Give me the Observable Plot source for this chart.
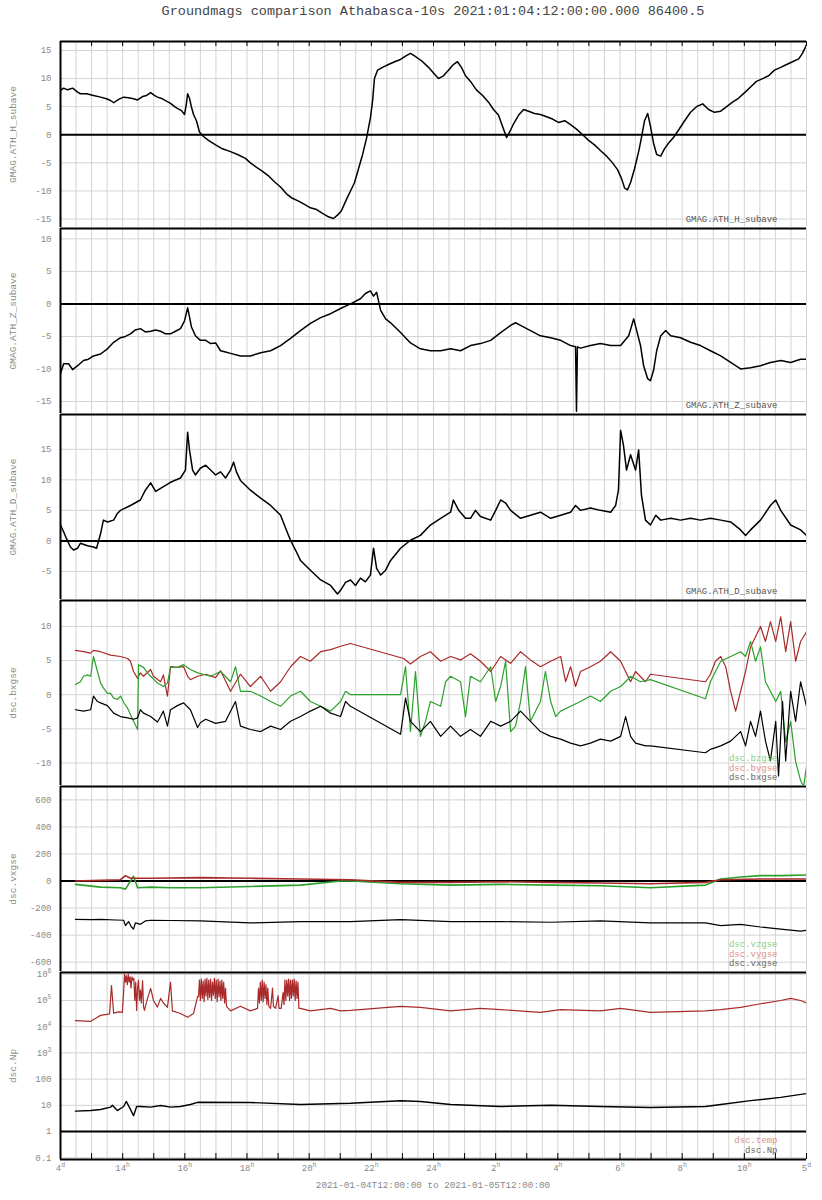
<!DOCTYPE html>
<html><head><meta charset="utf-8">
<script src="https://cdn.jsdelivr.net/npm/d3@7"></script>
<script src="https://cdn.jsdelivr.net/npm/@observablehq/plot@0.6"></script>
<style>
body{margin:0;background:#fff;font-family:'Liberation Mono','DejaVu Sans Mono',monospace;}
#title{width:822px;height:40px;line-height:24px;font-size:13.5px;color:#444;text-align:center;box-sizing:border-box;padding-left:44px;white-space:pre;}
#chart svg{display:block;overflow:visible;}
#caption{width:822px;height:14px;line-height:14px;font-size:9.3px;color:#888;text-align:center;box-sizing:border-box;padding-left:44px;}
</style></head><body>
<div id="title">Groundmags comparison Athabasca-10s 2021:01:04:12:00:00.000 86400.5</div>
<div id="chart"></div>
<div id="caption">2021-01-04T12:00:00 to 2021-01-05T12:00:00</div>
<script>
// ---- time axis (hours after 2021-01-04 12:00) ----
const xTickHours = [0,2,4,6,8,10,12,14,16,18,20,22,24];
const xTickLabels = ["4^d","14^h","16^h","18^h","20^h","22^h","24^h","2^h","4^h","6^h","8^h","10^h","5^d"];
const hourMarks = d3.range(0, 25, 1);
const halfHours = d3.range(0, 24.01, 0.5);

// ---- GMAG.ATH_H_subave ----
const athH = [[0,7.9],[0.10,8.3],[0.23,8.0],[0.39,8.3],[0.55,7.6],[0.64,7.3],[0.84,7.3],[1.06,7.0],[1.29,6.7],[1.48,6.4],[1.61,6.1],[1.71,5.7],[1.87,6.3],[2.03,6.7],[2.19,6.6],[2.35,6.4],[2.48,6.2],[2.64,6.8],[2.77,7.0],[2.90,7.5],[3.02,7.0],[3.12,6.7],[3.28,6.4],[3.41,6.0],[3.54,5.6],[3.67,5.0],[3.76,4.7],[3.89,4.3],[3.99,3.6],[4.05,5.5],[4.09,7.3],[4.15,6.5],[4.21,5.0],[4.28,3.6],[4.38,2.4],[4.47,0.5],[4.60,-0.3],[4.76,-1.0],[4.99,-1.8],[5.21,-2.5],[5.47,-3.0],[5.73,-3.6],[5.95,-4.2],[6.11,-5.0],[6.31,-5.8],[6.50,-6.5],[6.69,-7.3],[6.89,-8.4],[7.08,-9.3],[7.27,-10.5],[7.46,-11.3],[7.66,-11.8],[7.85,-12.4],[8.04,-13.0],[8.24,-13.3],[8.43,-14.0],[8.62,-14.6],[8.78,-14.9],[8.91,-14.3],[9.04,-13.5],[9.20,-11.5],[9.33,-10.0],[9.46,-8.5],[9.59,-6.0],[9.72,-3.5],[9.85,-0.5],[9.97,3.0],[10.04,6.0],[10.10,10.0],[10.20,11.5],[10.36,12.0],[10.55,12.5],[10.75,13.0],[10.94,13.4],[11.10,14.0],[11.26,14.5],[11.45,13.8],[11.65,13.0],[11.84,12.0],[12.00,11.0],[12.16,10.0],[12.32,10.5],[12.48,11.5],[12.64,12.5],[12.77,13.0],[12.90,12.0],[13.03,10.5],[13.19,9.5],[13.38,8.0],[13.58,7.0],[13.77,5.8],[13.93,4.5],[14.09,3.5],[14.22,1.5],[14.35,-0.5],[14.45,0.5],[14.58,2.0],[14.74,3.5],[14.90,4.5],[15.06,4.2],[15.25,3.8],[15.44,3.6],[15.64,3.2],[15.83,2.8],[16.02,2.2],[16.22,2.5],[16.41,1.8],[16.60,1.0],[16.80,0.0],[16.99,-1.0],[17.18,-1.8],[17.37,-2.8],[17.57,-3.8],[17.76,-5.0],[17.92,-6.2],[18.05,-7.8],[18.15,-9.5],[18.24,-9.8],[18.34,-8.5],[18.47,-6.0],[18.60,-3.0],[18.69,-0.5],[18.79,2.5],[18.89,3.8],[18.98,1.5],[19.08,-1.5],[19.18,-3.5],[19.31,-3.8],[19.43,-2.5],[19.56,-1.5],[19.72,-0.5],[19.88,0.8],[20.08,2.5],[20.27,4.0],[20.46,5.0],[20.66,5.5],[20.85,4.5],[21.04,4.0],[21.24,4.2],[21.43,5.0],[21.62,5.8],[21.81,6.5],[22.01,7.5],[22.20,8.5],[22.39,9.5],[22.59,10.0],[22.78,10.5],[22.97,11.5],[23.17,12.0],[23.36,12.5],[23.55,13.0],[23.75,13.5],[23.87,14.5],[24,16.0]];

// ---- GMAG.ATH_Z_subave ----
const athZ = [[0,-10.7],[0.10,-9.2],[0.26,-9.2],[0.39,-10.1],[0.55,-9.5],[0.74,-8.7],[0.90,-8.5],[1.06,-8.0],[1.29,-7.7],[1.51,-6.9],[1.71,-5.9],[1.93,-5.2],[2.09,-5.0],[2.25,-4.6],[2.41,-4.0],[2.57,-3.8],[2.73,-4.3],[2.90,-4.2],[3.06,-4.0],[3.22,-4.2],[3.38,-4.6],[3.54,-4.6],[3.70,-4.2],[3.86,-3.8],[3.99,-2.6],[4.09,-0.6],[4.15,-2.0],[4.21,-3.5],[4.34,-4.9],[4.50,-5.6],[4.67,-5.6],[4.83,-6.1],[4.99,-6.0],[5.15,-7.2],[5.31,-7.4],[5.47,-7.6],[5.79,-8.0],[6.11,-8.0],[6.44,-7.5],[6.76,-7.2],[7.08,-6.4],[7.40,-5.3],[7.72,-4.1],[8.04,-3.0],[8.37,-2.1],[8.69,-1.5],[9.01,-0.7],[9.33,0.0],[9.65,0.8],[9.81,1.6],[9.97,2.0],[10.07,1.2],[10.17,1.8],[10.23,0.5],[10.30,-1.0],[10.46,-2.3],[10.62,-2.9],[10.94,-4.4],[11.26,-6.0],[11.58,-6.9],[11.90,-7.2],[12.23,-7.2],[12.55,-6.9],[12.87,-7.2],[13.19,-6.4],[13.51,-6.1],[13.84,-5.6],[14.16,-4.4],[14.48,-3.3],[14.64,-2.9],[14.80,-3.3],[15.12,-4.1],[15.44,-4.9],[15.77,-5.2],[16.09,-5.6],[16.41,-6.4],[16.57,-6.6],[16.60,-16.5],[16.63,-6.6],[16.73,-6.8],[17.05,-6.4],[17.37,-6.1],[17.70,-6.4],[18.02,-6.4],[18.28,-4.9],[18.44,-2.3],[18.53,-4.0],[18.66,-6.4],[18.76,-9.5],[18.89,-11.5],[18.98,-11.8],[19.08,-10.2],[19.18,-7.2],[19.31,-4.9],[19.47,-4.1],[19.63,-4.9],[19.95,-5.2],[20.27,-5.9],[20.59,-6.4],[20.91,-7.2],[21.24,-8.0],[21.56,-9.0],[21.88,-10.0],[22.20,-9.8],[22.52,-9.5],[22.84,-9.0],[23.17,-8.7],[23.49,-9.0],[23.81,-8.5],[24,-8.5]];

// ---- GMAG.ATH_D_subave ----
const athD = [[0,2.6],[0.10,1.5],[0.19,0.4],[0.32,-1.0],[0.42,-1.5],[0.55,-1.2],[0.64,-0.4],[0.87,-0.8],[1.06,-1.0],[1.16,-1.2],[1.29,1.2],[1.38,3.4],[1.51,3.1],[1.71,3.4],[1.83,4.5],[1.93,5.0],[2.25,5.8],[2.57,6.7],[2.73,8.3],[2.90,9.5],[3.06,8.1],[3.22,8.6],[3.54,9.6],[3.86,10.3],[4.02,11.6],[4.09,17.8],[4.15,14.9],[4.25,11.6],[4.34,10.8],[4.50,11.9],[4.67,12.4],[4.83,11.6],[4.99,10.8],[5.15,11.3],[5.31,10.3],[5.47,11.6],[5.57,12.9],[5.66,11.3],[5.79,9.9],[6.11,8.3],[6.44,7.0],[6.76,5.8],[7.08,4.2],[7.24,2.1],[7.40,0.1],[7.56,-1.5],[7.72,-3.2],[8.04,-4.8],[8.37,-6.4],[8.69,-7.3],[8.91,-8.7],[9.01,-8.1],[9.17,-6.8],[9.33,-6.4],[9.49,-7.3],[9.65,-6.1],[9.81,-6.7],[9.97,-5.6],[10.07,-1.2],[10.17,-4.5],[10.30,-5.6],[10.46,-4.8],[10.62,-3.2],[10.94,-1.2],[11.26,0.1],[11.58,0.9],[11.90,2.6],[12.23,3.7],[12.55,4.7],[12.64,6.7],[12.81,5.0],[13.03,3.7],[13.19,3.7],[13.35,5.0],[13.51,4.0],[13.84,3.4],[14.00,5.0],[14.16,6.7],[14.32,6.2],[14.48,5.0],[14.80,3.7],[15.12,4.2],[15.44,4.7],[15.77,3.7],[16.09,4.2],[16.41,4.7],[16.57,5.8],[16.73,5.0],[17.05,5.4],[17.37,5.0],[17.70,4.7],[17.86,5.8],[17.95,8.3],[18.02,18.1],[18.11,15.7],[18.21,11.6],[18.34,14.1],[18.50,11.6],[18.60,14.9],[18.69,7.5],[18.82,3.4],[18.98,2.6],[19.15,4.2],[19.31,3.4],[19.63,3.7],[19.95,3.4],[20.27,3.7],[20.59,3.4],[20.91,3.7],[21.24,3.4],[21.56,3.1],[21.88,1.8],[22.04,0.9],[22.20,1.8],[22.52,3.4],[22.84,5.8],[23.01,6.7],[23.17,5.0],[23.49,2.6],[23.81,1.8],[24,0.9]];

// ---- dsc.bxgse / bygse / bzgse ----
const dscBy = [[0.48,6.5],[0.74,6.3],[0.97,6.1],[1.06,6.5],[1.29,6.3],[1.61,5.8],[1.93,5.6],[2.16,5.3],[2.25,4.9],[2.35,3.4],[2.48,2.4],[2.57,3.2],[2.67,2.7],[2.90,3.7],[2.99,2.7],[3.22,1.9],[3.31,2.9],[3.44,-0.2],[3.54,4.1],[3.76,4.0],[3.96,4.1],[4.09,2.7],[4.18,2.2],[4.41,2.7],[4.67,3.0],[4.99,2.5],[5.15,3.5],[5.47,0.5],[5.79,3.0],[6.11,1.2],[6.44,2.7],[6.76,0.5],[7.08,1.9],[7.40,4.1],[7.72,5.6],[8.04,4.9],[8.37,6.3],[8.69,6.6],[9.01,7.1],[9.33,7.5],[11.04,5.3],[11.26,4.5],[11.58,5.6],[11.90,6.3],[12.23,4.9],[12.55,5.6],[12.87,5.1],[13.19,6.0],[13.51,4.9],[13.84,3.4],[14.16,5.6],[14.48,4.6],[14.80,6.3],[15.12,5.1],[15.44,4.1],[15.77,4.9],[16.09,5.6],[16.25,1.9],[16.41,4.1],[16.57,1.2],[16.73,3.4],[17.05,4.1],[17.37,4.9],[17.70,6.3],[18.02,4.9],[18.18,3.4],[18.34,1.9],[18.50,3.4],[18.82,1.9],[18.98,3.0],[20.75,1.9],[20.91,3.0],[21.07,4.9],[21.24,5.6],[21.40,4.1],[21.56,0.5],[21.72,-2.4],[21.88,0.5],[22.04,3.4],[22.20,7.0],[22.36,8.5],[22.52,10.0],[22.68,7.8],[22.84,10.7],[23.01,7.8],[23.17,11.4],[23.33,6.3],[23.49,10.7],[23.65,4.9],[23.81,7.8],[24,9.2]];
const dscBz = [[0.48,1.5],[0.64,1.9],[0.74,2.7],[0.87,2.9],[0.97,2.7],[1.06,5.6],[1.19,3.4],[1.29,1.7],[1.38,1.0],[1.51,0.2],[1.61,0.2],[1.71,-0.5],[1.83,-0.7],[1.93,-0.2],[2.03,-1.1],[2.16,-2.0],[2.25,-2.9],[2.35,-3.9],[2.48,-5.1],[2.51,4.4],[2.67,4.0],[2.80,3.2],[2.90,2.7],[3.12,1.7],[3.31,1.2],[3.44,1.7],[3.54,4.0],[3.76,4.0],[3.96,4.4],[4.18,3.7],[4.41,3.2],[4.83,2.7],[5.15,3.4],[5.47,1.9],[5.63,4.1],[5.79,0.5],[6.11,0.5],[6.44,-0.2],[6.76,-1.0],[7.08,-1.7],[7.40,-0.2],[7.72,0.5],[8.04,-1.0],[8.37,-1.7],[8.69,-2.4],[9.01,-1.0],[9.17,0.5],[9.33,0.0],[10.94,0.0],[11.10,4.1],[11.26,-5.4],[11.42,3.4],[11.58,-6.1],[11.74,-3.9],[11.90,-1.0],[12.23,-1.7],[12.39,1.9],[12.55,2.7],[12.87,1.9],[13.03,-3.2],[13.19,2.7],[13.51,1.9],[13.84,4.1],[14.00,-1.0],[14.16,1.2],[14.32,4.9],[14.48,-5.4],[14.64,-4.6],[14.80,-1.0],[14.96,4.1],[15.12,-3.9],[15.44,-1.0],[15.60,3.4],[15.77,-1.0],[15.93,-3.2],[16.09,-2.4],[16.41,-1.7],[16.73,-1.0],[17.05,-0.2],[17.37,-1.0],[17.70,0.5],[18.02,1.2],[18.18,1.9],[18.34,2.7],[18.66,1.9],[18.98,2.2],[20.75,-0.6],[20.91,1.9],[21.07,3.4],[21.24,4.9],[21.56,5.6],[21.88,6.3],[22.04,5.6],[22.20,7.8],[22.36,4.9],[22.52,7.0],[22.68,1.9],[22.84,0.5],[23.01,-1.0],[23.17,0.5],[23.33,-6.9],[23.49,-3.9],[23.65,-9.8],[23.81,-12.6],[23.91,-13.4],[24,-10.5]];
const dscBx = [[0.48,-2.2],[0.74,-2.4],[0.97,-2.2],[1.06,-0.2],[1.19,-1.0],[1.29,-1.2],[1.51,-1.6],[1.71,-2.7],[1.93,-3.2],[2.16,-3.4],[2.35,-3.6],[2.48,-3.4],[2.57,-2.2],[2.67,-2.7],[2.90,-3.2],[3.12,-4.0],[3.22,-3.2],[3.31,-2.4],[3.44,-4.6],[3.54,-2.2],[3.76,-1.6],[3.96,-1.2],[4.18,-2.2],[4.41,-4.8],[4.50,-4.1],[4.67,-3.6],[4.99,-4.2],[5.31,-3.9],[5.63,-1.0],[5.79,-4.6],[6.11,-5.1],[6.44,-5.4],[6.76,-4.6],[7.08,-5.1],[7.40,-3.9],[7.72,-3.2],[8.04,-2.4],[8.37,-1.7],[8.69,-2.7],[9.01,-3.2],[9.17,-1.0],[9.33,-1.7],[10.94,-5.8],[11.10,-0.5],[11.26,-3.9],[11.58,-5.4],[11.90,-3.9],[12.23,-6.1],[12.55,-4.6],[12.87,-6.1],[13.19,-5.1],[13.51,-6.1],[13.84,-3.9],[14.16,-4.6],[14.48,-3.9],[14.80,-2.4],[15.12,-3.9],[15.44,-5.4],[15.77,-6.1],[16.09,-6.5],[16.41,-7.1],[16.73,-7.5],[17.05,-7.1],[17.37,-6.5],[17.70,-6.8],[18.02,-6.1],[18.18,-3.2],[18.34,-6.1],[18.50,-7.1],[18.82,-7.5],[18.98,-7.5],[20.75,-8.5],[20.91,-8.0],[21.24,-7.5],[21.56,-6.8],[21.88,-5.4],[22.04,-7.5],[22.20,-3.9],[22.36,-6.1],[22.52,-2.4],[22.68,-6.8],[22.84,-9.7],[23.01,-3.9],[23.10,-11.9],[23.23,-1.0],[23.33,-9.7],[23.49,0.5],[23.65,-3.9],[23.81,1.9],[24,-1.7]];

// ---- dsc.vxgse / vygse / vzgse ----
const dscVx = [[0.48,-283],[0.97,-285],[1.29,-283],[1.77,-288],[2.03,-290],[2.09,-330],[2.19,-300],[2.28,-340],[2.35,-355],[2.41,-310],[2.57,-320],[2.73,-295],[2.90,-290],[3.54,-292],[4.50,-295],[6.11,-310],[7.72,-300],[9.33,-300],[10.94,-285],[12.55,-300],[14.16,-300],[15.77,-305],[17.37,-295],[18.98,-310],[20.75,-310],[21.24,-330],[21.88,-320],[22.52,-340],[23.17,-355],[23.81,-370],[24,-365]];
const dscVy = [[0.48,0],[1.29,5],[1.93,10],[2.09,40],[2.25,20],[2.90,20],[4.50,25],[6.11,20],[7.72,15],[9.33,10],[10.94,-10],[12.55,-10],[14.16,-5],[15.77,-10],[17.37,-15],[18.98,-20],[20.75,-10],[21.24,10],[22.52,15],[24,15]];
const dscVz = [[0.48,-25],[1.29,-45],[1.93,-50],[2.09,-60],[2.35,35],[2.48,-50],[2.90,-45],[3.54,-50],[4.50,-50],[6.11,-40],[7.72,-30],[9.01,0],[9.33,0],[10.94,-20],[12.55,-30],[14.16,-25],[15.77,-30],[17.37,-35],[18.98,-50],[20.75,-30],[21.24,15],[21.88,30],[22.52,40],[23.17,40],[24,45]];

// ---- dsc.Np / dsc.temp ----
const dscNp = [[0.48,6.0],[0.97,6.3],[1.29,6.9],[1.61,8.5],[1.67,10],[1.83,6.3],[2.03,9],[2.12,14],[2.25,7],[2.35,4],[2.45,9],[2.57,9],[2.90,8.5],[3.22,9.8],[3.54,8.5],[3.86,9],[4.18,10.7],[4.41,13],[6.11,12.8],[7.72,10.7],[9.33,12],[10.94,15],[11.58,14],[12.55,10.7],[14.16,9],[15.77,10],[17.37,9],[18.98,8.2],[20.75,9],[21.24,10.7],[22.20,15],[23.17,20],[24,28]];
const dscTemp = [[0.48,1.7e4],[0.97,1.6e4],[1.29,2.7e4],[1.58,3.1e4],[1.64,3.7e5],[1.71,3.3e4],[1.87,3.7e4],[1.99,3.5e4],[2.03,2e5],[2.06,1e6],[2.09,5e5],[2.12,9e5],[2.15,4e5],[2.18,1e6],[2.21,5e5],[2.24,8e5],[2.27,3e5],[2.30,8e5],[2.33,6e5],[2.36,7e5],[2.39,1e5],[2.42,5e5],[2.45,4.2e4],[2.48,3e5],[2.51,6e5],[2.54,1e5],[2.57,2.5e5],[2.60,8e4],[2.64,5.7e5],[2.67,6e4],[2.70,4.2e4],[2.80,1.2e5],[2.90,2.9e5],[2.99,1e5],[3.12,5.6e4],[3.22,1.2e5],[3.31,8e4],[3.44,5.5e4],[3.54,5e5],[3.60,4e4],[3.86,3.2e4],[4.09,2.3e4],[4.28,3.2e4],[4.41,1.4e5],[4.44,1.4e5],[4.47,6e5],[4.50,1e5],[4.53,6.5e5],[4.56,1.2e5],[4.59,5.5e5],[4.62,9e4],[4.65,6.5e5],[4.68,1.5e5],[4.71,7e5],[4.74,1.1e5],[4.77,6e5],[4.80,1.3e5],[4.83,6.5e5],[4.86,1e5],[4.89,5e5],[4.92,1.6e5],[4.95,7e5],[4.98,1.2e5],[5.01,6e5],[5.04,9e4],[5.07,6.5e5],[5.10,1.4e5],[5.13,5.5e5],[5.16,1e5],[5.19,6e5],[5.22,1.2e5],[5.25,5e5],[5.28,8e4],[5.31,3e5],[5.34,6e4],[5.47,4e4],[5.79,6e4],[6.11,4e4],[6.34,5e4],[6.37,3e5],[6.40,8e4],[6.43,5e5],[6.46,1e5],[6.49,6e5],[6.52,9e4],[6.55,5e5],[6.58,1.2e5],[6.61,4e5],[6.64,7e4],[6.67,3e5],[6.70,6e4],[6.76,5e4],[6.82,3e5],[6.85,6e4],[6.92,5e4],[7.00,1.5e5],[7.03,5e4],[7.10,5e4],[7.16,2e5],[7.19,7e4],[7.22,6e5],[7.25,1e5],[7.28,6e5],[7.31,1.5e5],[7.34,6.5e5],[7.37,1e5],[7.40,6e5],[7.43,1.2e5],[7.46,6e5],[7.49,1.5e5],[7.52,6.5e5],[7.55,1e5],[7.58,5.5e5],[7.61,1.2e5],[7.64,5e5],[7.67,5e4],[7.72,5e4],[8.04,4e4],[8.37,4.5e4],[8.69,5e4],[9.01,4e4],[9.33,4.2e4],[10.94,6e4],[11.58,5.5e4],[12.55,4e4],[13.51,5e4],[14.16,4.5e4],[15.44,3.5e4],[16.09,4.5e4],[17.37,4e4],[18.02,5e4],[18.98,3.5e4],[20.75,4e4],[21.24,4.5e4],[21.88,5.5e4],[22.52,7.5e4],[23.17,1e5],[23.49,1.2e5],[23.81,1e5],[24,8e4]];

// ---- axis ticks per panel ----
const hTicks = [-15,-10,-5,0,5,10,15];
const zTicks = [-15,-10,-5,0,5,10];
const dTicks = [-5,0,5,10,15];
const bTicks = [-10,-5,0,5,10];
const vTicks = [-600,-400,-200,0,200,400,600];
const npTicks = [0.1,1,10,100,1e3,1e4,1e5,1e6];
const npTickLabels = ["0.1","1","10","100","10^3","10^4","10^5","10^6"];

const RED = "#a82a2a", GREEN = "#2ca02c", BLACK = "#000";
const LRED = "#d98f8f", LGREEN = "#86cf86", LGRAY = "#666";
const GRID = "#d3d3d3", TXT = "#8a8a8a";
const FONT = "'Liberation Mono','DejaVu Sans Mono',monospace";

function addSuperscripts(svg) {
  svg.querySelectorAll("text").forEach(t => {
    if (t.childElementCount === 0 && t.textContent.includes("^")) {
      const [a, b] = t.textContent.split("^");
      t.textContent = a;
      const ts = document.createElementNS("http://www.w3.org/2000/svg", "tspan");
      ts.setAttribute("dy", "-4");
      ts.setAttribute("font-size", "6.5");
      ts.textContent = b;
      t.appendChild(ts);
    }
  });
}

function panel(cfg) {
  const {height, marginBottom = 0, yDomain, yType = "linear", ticks, tickLabels, label, lines, legends, baseline, first, last} = cfg;
  const frameH = height - 1 - marginBottom;
  const fmt = v => (tickLabels ? tickLabels[ticks.indexOf(v)] : String(v));
  const marks = [
    Plot.gridX(halfHours, {stroke: GRID, strokeOpacity: 1}),
    Plot.gridY(ticks, {stroke: GRID, strokeOpacity: 1}),
    Plot.axisY(ticks, {tickSize: 0, tickPadding: 9, tickFormat: fmt, color: TXT, fontSize: 9, label: null}),
    Plot.text([label], {text: d => d, frameAnchor: "left", dx: -48, rotate: -90, textAnchor: "middle", lineAnchor: "middle", fill: TXT, fontSize: 9.5})
  ];
  if (baseline != null) marks.push(Plot.ruleY([baseline], {stroke: BLACK, strokeWidth: 2}));
  for (const s of lines) marks.push(Plot.line(s.data, {x: d => d[0], y: d => d[1], stroke: s.color, strokeWidth: s.width || 1.2, clip: true}));
  marks.push(Plot.ruleX([0], {stroke: BLACK, strokeWidth: 2}));
  marks.push(Plot.ruleY([yDomain[1]], {stroke: BLACK, strokeWidth: 2}));
  legends.forEach(l => marks.push(Plot.text([l.text], {text: d => d, frameAnchor: "bottom-right", textAnchor: "end", lineAnchor: "middle", dx: -29, dy: l.dy, fill: l.color, fontSize: 9})));
  if (first) marks.push(Plot.tickX(hourMarks, {x: d => d, stroke: BLACK, insetBottom: frameH - 5}));
  if (last) {
    marks.push(Plot.ruleY([yDomain[0]], {stroke: BLACK, strokeWidth: 2}));
    marks.push(Plot.tickX(hourMarks, {x: d => d, stroke: BLACK, insetTop: frameH - 6}));
    marks.push(Plot.axisX(xTickHours, {tickSize: 0, tickPadding: 5, tickFormat: d => xTickLabels[xTickHours.indexOf(d)], color: TXT, fontSize: 9, label: null}));
  }
  const svg = Plot.plot({
    width: 822, height, marginLeft: 60, marginRight: 16, marginTop: 1, marginBottom,
    style: {fontFamily: FONT, fontSize: "9px", background: "white", overflow: "visible"},
    x: {domain: [0, 24], axis: null},
    y: {domain: yDomain, type: yType, axis: null},
    marks
  });
  addSuperscripts(svg);
  return svg;
}

const chart = document.getElementById("chart");
chart.append(panel({
  height: 187, yDomain: [-16.5, 16.6], ticks: hTicks, label: "GMAG.ATH_H_subave", baseline: 0, first: true,
  lines: [{data: athH, color: BLACK, width: 1.5}],
  legends: [{text: "GMAG.ATH_H_subave", dy: -8, color: "#555"}]
}));
chart.append(panel({
  height: 186, yDomain: [-16.85, 11.6], ticks: zTicks, label: "GMAG.ATH_Z_subave", baseline: 0,
  lines: [{data: athZ, color: BLACK, width: 1.5}],
  legends: [{text: "GMAG.ATH_Z_subave", dy: -8, color: "#555"}]
}));
chart.append(panel({
  height: 186, yDomain: [-9.6, 20.7], ticks: dTicks, label: "GMAG.ATH_D_subave", baseline: 0,
  lines: [{data: athD, color: BLACK, width: 1.5}],
  legends: [{text: "GMAG.ATH_D_subave", dy: -8, color: "#555"}]
}));
chart.append(panel({
  height: 186, yDomain: [-13.3, 13.8], ticks: bTicks, label: "dsc.bxgse",
  lines: [{data: dscBy, color: RED}, {data: dscBz, color: GREEN}, {data: dscBx, color: BLACK}],
  legends: [{text: "dsc.bzgse", dy: -27, color: LGREEN}, {text: "dsc.bygse", dy: -17.5, color: LRED}, {text: "dsc.bxgse", dy: -8, color: LGRAY}]
}));
chart.append(panel({
  height: 186, yDomain: [-669, 699], ticks: vTicks, label: "dsc.vxgse", baseline: 0,
  lines: [{data: dscVx, color: BLACK}, {data: dscVz, color: GREEN, width: 1.6}, {data: dscVy, color: RED, width: 1.6}],
  legends: [{text: "dsc.vzgse", dy: -27, color: LGREEN}, {text: "dsc.vygse", dy: -17.5, color: LRED}, {text: "dsc.vxgse", dy: -8, color: LGRAY}]
}));
chart.append(panel({
  height: 208, marginBottom: 20, yDomain: [0.0853, 1.17e6], yType: "log", ticks: npTicks, tickLabels: npTickLabels, label: "dsc.Np", baseline: 1, last: true,
  lines: [{data: dscTemp, color: RED}, {data: dscNp, color: BLACK, width: 1.4}],
  legends: [{text: "dsc.temp", dy: -19, color: LRED}, {text: "dsc.Np", dy: -9.5, color: LGRAY}]
}));
</script>
</body></html>
